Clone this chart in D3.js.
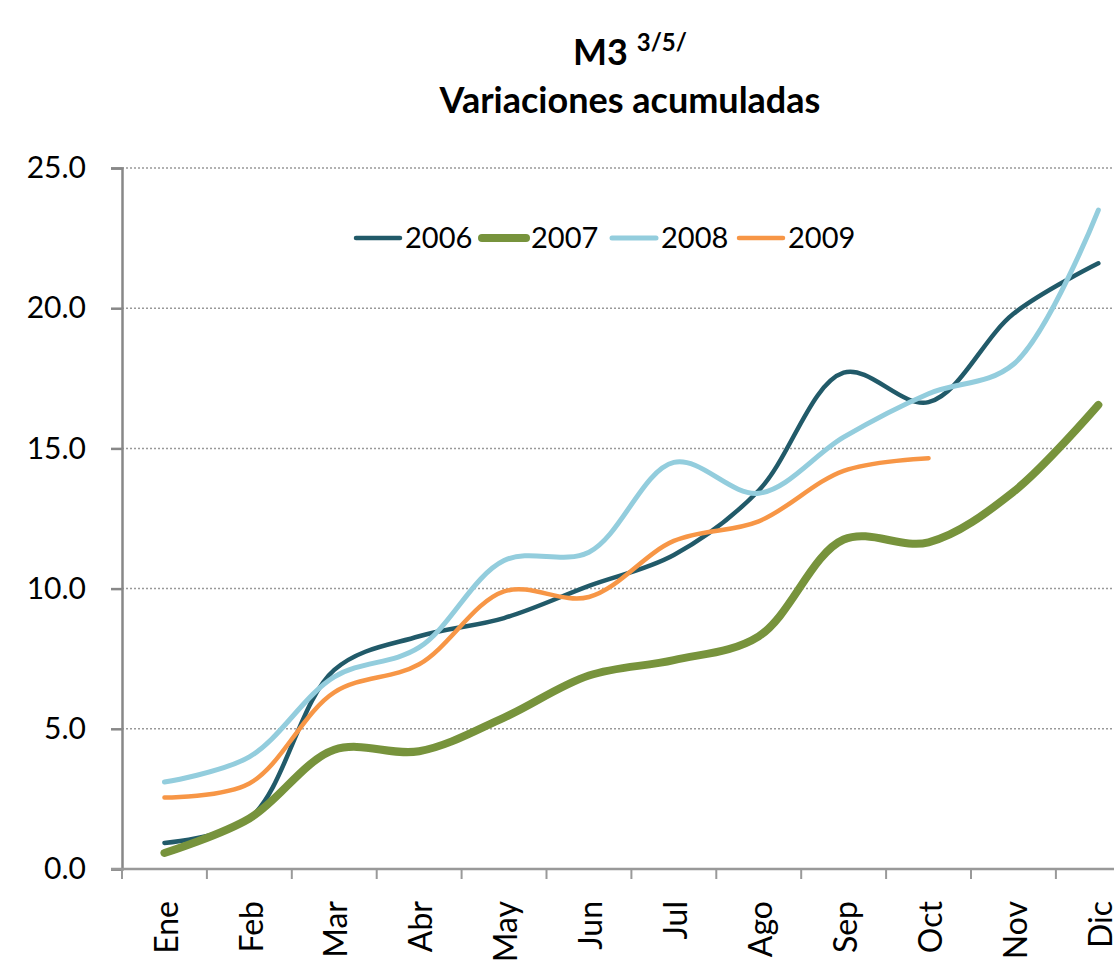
<!DOCTYPE html>
<html>
<head>
<meta charset="utf-8">
<script src="https://cdn.jsdelivr.net/npm/d3@7"></script>
<style>
  body { margin: 0; background: #fff; overflow: hidden; }
  svg { display: block; font-family: Lato, "Noto Sans", sans-serif; }
</style>
</head>
<body>
<script>
// data
var months = ["Ene", "Feb", "Mar", "Abr", "May", "Jun", "Jul", "Ago", "Sep", "Oct", "Nov", "Dic"];
var years = ["2006", "2007", "2008", "2009"];
var v2006 = [0.93, 1.8, 7.1, 8.3, 8.95, 10.1, 11.2, 13.5, 17.7, 16.65, 19.8, 21.6];
var v2007 = [0.57, 1.8, 4.25, 4.2, 5.4, 6.9, 7.45, 8.3, 11.75, 11.65, 13.45, 16.55];
var v2008 = [3.1, 4.0, 6.85, 7.9, 11.0, 11.3, 14.5, 13.4, 15.4, 16.95, 18.0, 23.5];
var v2009 = [2.55, 3.05, 6.3, 7.3, 9.9, 9.7, 11.7, 12.4, 14.2, 14.65];
var yTicks = [0, 5, 10, 15, 20, 25];

var series = [
  {name: years[0], values: v2006, color: "#215A69", width: 4.5},
  {name: years[1], values: v2007, color: "#77933C", width: 8},
  {name: years[2], values: v2008, color: "#93CDDD", width: 5},
  {name: years[3], values: v2009, color: "#F79646", width: 4.5}
];

var W = 1114, H = 960;
var plotLeft = 122, plotTop = 168, plotBottom = 869;

var svg = d3.select("body").append("svg")
    .attr("width", W)
    .attr("height", H);

// the plot runs off the right edge of the picture
var x = d3.scaleBand().domain(months).range([plotLeft, plotLeft + 12 * 84.9]).padding(0);
var y = d3.scaleLinear().domain([0, 25]).range([plotBottom, plotTop]);
var cx = function(m) { return x(m) + x.bandwidth() / 2; };

// gridlines
svg.append("g").selectAll("line")
  .data(yTicks.slice(1))
  .enter().append("line")
    .attr("x1", plotLeft).attr("x2", W)
    .attr("y1", function(d) { return y(d); })
    .attr("y2", function(d) { return y(d); })
    .attr("stroke", "#999")
    .attr("stroke-width", 1.5)
    .attr("stroke-dasharray", "2,2");

// y axis
var yAxis = svg.append("g")
    .attr("transform", "translate(" + plotLeft + ",0)")
    .call(d3.axisLeft(y).tickValues(yTicks).tickFormat(d3.format(".1f")).tickSize(11).tickPadding(25));
yAxis.select(".domain").attr("stroke", "#888").attr("stroke-width", 2.5);
yAxis.selectAll(".tick line").attr("stroke", "#888").attr("stroke-width", 2.5);
yAxis.selectAll("text").attr("font-size", 30).attr("fill", "#000").attr("font-family", "Lato");

// x axis
svg.append("line")
    .attr("x1", plotLeft - 11).attr("x2", W)
    .attr("y1", plotBottom).attr("y2", plotBottom)
    .attr("stroke", "#999").attr("stroke-width", 2.5);
svg.append("g").selectAll("line")
  .data(months.concat(["end"]))
  .enter().append("line")
    .attr("x1", function(d) { return d === "end" ? x.range()[1] : x(d); })
    .attr("x2", function(d) { return d === "end" ? x.range()[1] : x(d); })
    .attr("y1", plotBottom).attr("y2", plotBottom + 10)
    .attr("stroke", "#999").attr("stroke-width", 2);

svg.append("g").selectAll("text")
  .data(months)
  .enter().append("text")
    .attr("transform", function(d) { return "translate(" + (cx(d) + 2) + "," + 901 + ") rotate(-90)"; })
    .attr("text-anchor", "end")
    .attr("dy", "0.35em")
    .attr("font-size", 32)
    .text(function(d) { return d; });

// lines
var line = d3.line()
    .x(function(d, i) { return cx(months[i]); })
    .y(function(d) { return y(d); })
    .curve(d3.curveCatmullRom.alpha(0.5));

svg.append("g").selectAll("path")
  .data(series)
  .enter().append("path")
    .attr("fill", "none")
    .attr("stroke", function(d) { return d.color; })
    .attr("stroke-width", function(d) { return d.width; })
    .attr("stroke-linecap", "round")
    .attr("d", function(d) { return line(d.values); });

// legend
var legendX = [356, 482, 612, 739];
var legend = svg.append("g").selectAll("g")
  .data(series)
  .enter().append("g")
    .attr("transform", function(d, i) { return "translate(" + legendX[i] + ",238)"; });
legend.append("line")
    .attr("x1", 0).attr("x2", 44)
    .attr("stroke", function(d) { return d.color; })
    .attr("stroke-width", function(d) { return d.width; })
    .attr("stroke-linecap", "round");
legend.append("text")
    .attr("x", 49)
    .attr("dy", "0.35em")
    .attr("font-size", 29)
    .text(function(d) { return d.name; });

// title
var title = svg.append("text")
    .attr("x", 630).attr("y", 65)
    .attr("text-anchor", "middle")
    .attr("font-weight", "bold")
    .attr("font-size", 36);
title.append("tspan").text("M3 ");
title.append("tspan").attr("font-size", 24).attr("dy", -14).text("3/5/");
svg.append("text")
    .attr("x", 630).attr("y", 113)
    .attr("text-anchor", "middle")
    .attr("font-weight", "bold")
    .attr("font-size", 36)
    .text("Variaciones acumuladas");
</script>
</body>
</html>
